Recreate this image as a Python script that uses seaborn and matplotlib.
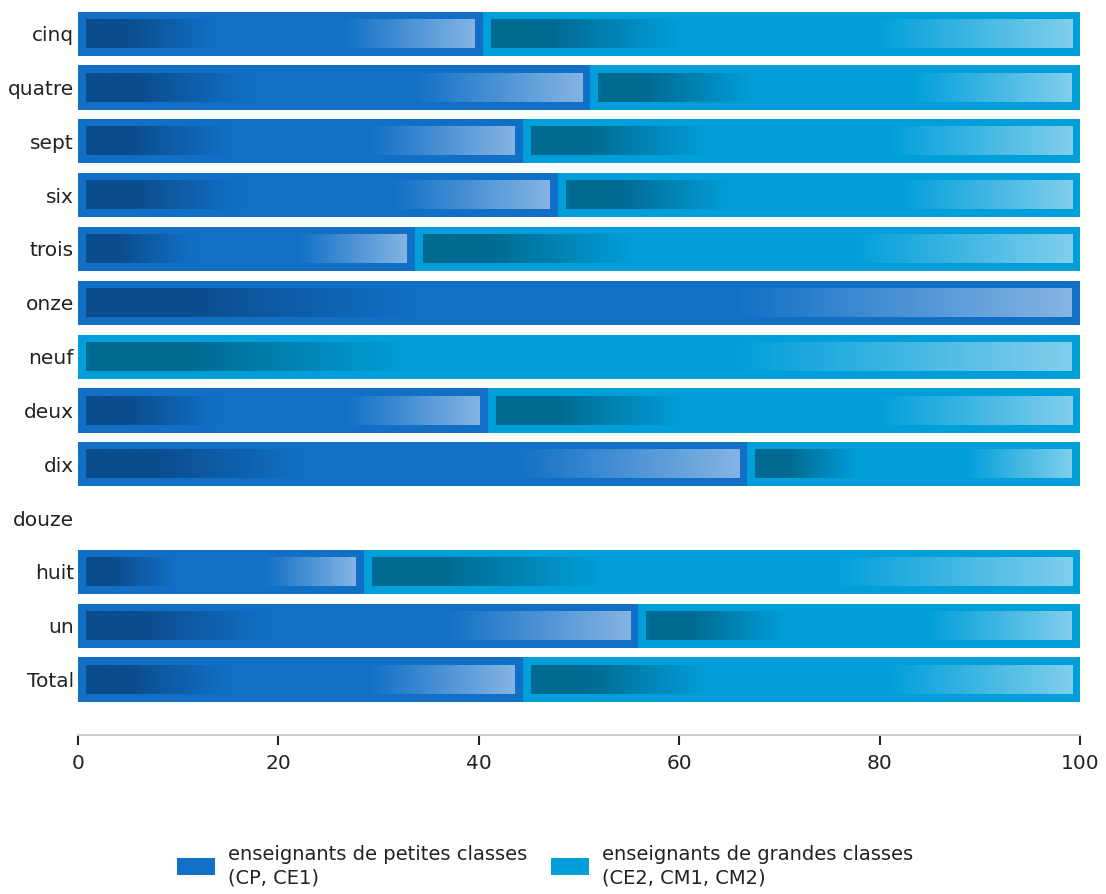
import numpy as np
import pandas as pd
import matplotlib
matplotlib.use("Agg")
import matplotlib.pyplot as plt
from matplotlib.colors import LinearSegmentedColormap
from matplotlib.patches import Patch
import seaborn as sns

categories = ["cinq", "quatre", "sept", "six", "trois", "onze", "neuf",
              "deux", "dix", "douze", "huit", "un", "Total"]
petites = [40.4, 51.1, 44.4, 47.9, 33.6, 100.0, 0.0,
           40.9, 66.8, np.nan, 28.5, 55.9, 44.4]
grandes = [59.6, 48.9, 55.6, 52.1, 66.4, 0.0, 100.0,
           59.1, 33.2, np.nan, 71.5, 44.1, 55.6]
xticks = [0, 20, 40, 60, 80, 100]
series_names = ["enseignants de petites classes\n(CP, CE1)",
                "enseignants de grandes classes\n(CE2, CM1, CM2)"]

dark_main, dark_lo, dark_hi = "#1170C6", "#0B4C8C", "#84B4E3"
light_main, light_lo, light_hi = "#009FDA", "#006A90", "#80CEEC"

sns.set_style("white")
plt.rcParams["font.family"] = ["DejaVu Sans"]

df = pd.DataFrame({"cat": categories,
                   "petites": petites,
                   "total": np.array(petites) + np.array(grandes)})

fig = plt.figure(figsize=(11.06, 8.94), dpi=100)
ax = fig.add_axes([78 / 1106, 1 - 735 / 894, 1002 / 1106, (735 - 6.8) / 894])

bw = 0.82
sns.barplot(data=df, y="cat", x="total", order=categories, orient="h",
            color=light_main, saturation=1, width=bw, errorbar=None, ax=ax,
            linewidth=0, zorder=2)
sns.barplot(data=df, y="cat", x="petites", order=categories, orient="h",
            color=dark_main, saturation=1, width=bw, errorbar=None, ax=ax,
            linewidth=0, zorder=3)

ax.set_xlim(0, 100)
ax.set_ylim(13.03, -0.5)

# inset of inner gradient rectangles (in data units, ~8 px)
ax_w_px = 1002
ax_h_px = 735 - 6.8
dx = 8 * 100 / ax_w_px
dy = 8 * (13.03 + 0.5) / ax_h_px

def cmap_for(lo, main, hi):
    return LinearSegmentedColormap.from_list(
        "g", [(0, lo), (0.10, lo), (0.33, main), (0.66, main), (1.0, hi)])

cm_dark = cmap_for(dark_lo, dark_main, dark_hi)
cm_light = cmap_for(light_lo, light_main, light_hi)
grad = np.linspace(0, 1, 256).reshape(1, -1)

full_patches = list(ax.containers[0])
dark_patches = list(ax.containers[1])

def add_grad(x0, x1, yc, h, cmap):
    if not np.isfinite(x0) or not np.isfinite(x1):
        return
    if x1 - x0 <= 2 * dx:
        return
    ax.imshow(grad, cmap=cmap, aspect="auto", interpolation="bilinear",
              extent=(x0 + dx, x1 - dx, yc + h / 2 - dy, yc - h / 2 + dy),
              zorder=4)

for pf, pd_ in zip(full_patches, dark_patches):
    yc = pd_.get_y() + pd_.get_height() / 2
    h = pd_.get_height()
    pw = pd_.get_width()
    fw = pf.get_width()
    if not np.isfinite(pw):
        continue
    add_grad(0, pw, yc, h, cm_dark)
    add_grad(pw, fw, yc, h, cm_light)

ax.set_xlim(0, 100)
ax.set_ylim(13.03, -0.5)
ax.set_xticks(xticks)
ax.set_xticklabels([str(t) for t in xticks], fontsize=14.5, color="#222222")
ax.set_xlabel("")
ax.set_ylabel("")
ax.tick_params(axis="y", length=0, pad=3, labelsize=14.5, labelcolor="#222222")
ax.tick_params(axis="x", direction="out", length=7, width=1.5,
               color="#222222", pad=7, bottom=True)
for s in ["top", "right", "left"]:
    ax.spines[s].set_visible(False)
ax.spines["bottom"].set_color("#cccccc")
ax.spines["bottom"].set_linewidth(1.5)

handles = [Patch(facecolor=dark_main, edgecolor="none"),
           Patch(facecolor=light_main, edgecolor="none")]
leg = fig.legend(handles, series_names, loc="center",
                 bbox_to_anchor=(545 / 1106, 1 - 866 / 894), ncol=2,
                 frameon=False, fontsize=14, handlelength=1.96,
                 handleheight=0.95, handletextpad=0.67, columnspacing=1.19,
                 labelcolor="#222222")
for t in leg.get_texts():
    t.set_linespacing(1.3)

fig.savefig("out.png", dpi=100)
